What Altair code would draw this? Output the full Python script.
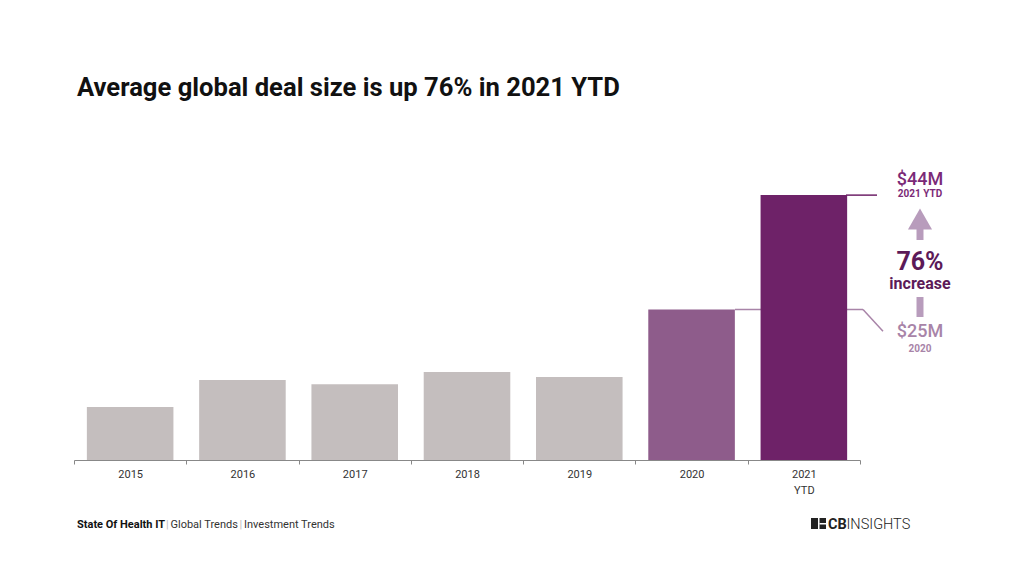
import altair as alt
import pandas as pd

# ---- data ----
years = ["2015", "2016", "2017", "2018", "2019", "2020", "2021 YTD"]
values = [8.8, 13.3, 12.6, 14.6, 13.8, 25, 44]
bar_colors = ["#c4bebe", "#c4bebe", "#c4bebe", "#c4bebe", "#c4bebe", "#8e5c8b", "#6e2268"]

title_text = "Average global deal size is up 76% in 2021 YTD"
footer_bold = "State Of Health IT"
footer_parts = ["Global Trends", "Investment Trends"]

df = pd.DataFrame({"year": years, "value": values})

W, H = 786, 301
FONT = "Roboto"
DARK = "#6e2268"
MID = "#7b2a77"
LIGHT = "#a884a8"
ARROW = "#b89cbc"

x_scale = alt.Scale(domain=years, paddingInner=0, paddingOuter=0)
y_scale = alt.Scale(domain=[0, 50])

bars = alt.Chart(df).mark_bar(width=alt.RelativeBandSize(0.771)).encode(
    x=alt.X("year:N", scale=x_scale, sort=years,
            axis=alt.Axis(title=None, labelAngle=0,
                          labelExpr="split(datum.label, ' ')",
                          tickBand="extent", tickSize=4, labelPadding=4,
                          labelFont=FONT, labelFontSize=11, labelColor="#333",
                          labelLineHeight=16, domainColor="#888",
                          tickColor="#888", domainWidth=1)),
    y=alt.Y("value:Q", scale=y_scale, axis=None),
    color=alt.Color("year:N", scale=alt.Scale(domain=years, range=bar_colors), legend=None),
)

v20 = alt.Chart(pd.DataFrame({"v": [values[5]], "v2": [21.4]}))
v21 = alt.Chart(pd.DataFrame({"v": [values[6]]}))

# connector lines
line20_h = v20.mark_rule(color=LIGHT, strokeWidth=1.5).encode(
    x=alt.value(661), x2=alt.value(789), y=alt.Y("v:Q", scale=y_scale, axis=None))
line20_d = v20.mark_rule(color=LIGHT, strokeWidth=1.5).encode(
    x=alt.value(789), x2=alt.value(809), y=alt.Y("v:Q", scale=y_scale, axis=None), y2="v2:Q")
line21 = v21.mark_rule(color=DARK, strokeWidth=1.5).encode(
    x=alt.value(772), x2=alt.value(803), y=alt.Y("v:Q", scale=y_scale, axis=None))

one = alt.Chart(pd.DataFrame({"k": [0]}))

def txt(text, x, y, size, color, weight="normal", align="left"):
    return one.mark_text(text=text, font=FONT, fontSize=size, color=color,
                         fontWeight=weight, align=align, baseline="alphabetic").encode(
        x=alt.value(x), y=alt.value(y))

ax = 846
ann = [
    txt("$44M", ax, 26, 18, MID, 500, "center"),
    txt("2021 YTD", ax, 38, 10, MID, "bold", "center"),
    txt("76%", ax, 111, 25, "#5c1a58", "bold", "center"),
    txt("increase", ax, 130, 16, "#5c1a58", "bold", "center"),
    txt("$25M", ax, 178, 18, LIGHT, 500, "center"),
    txt("2020", ax, 193, 10, LIGHT, "bold", "center"),
]

shaft_up = one.mark_rect(color=ARROW).encode(
    x=alt.value(ax - 3.5), x2=alt.value(ax + 3.5), y=alt.value(70), y2=alt.value(81))
head_up = one.mark_point(shape="triangle-up", filled=True, color=ARROW, opacity=1,
                         size=580).encode(x=alt.value(ax), y=alt.value(60))
shaft_dn = one.mark_rect(color=ARROW).encode(
    x=alt.value(ax - 3.5), x2=alt.value(ax + 3.5), y=alt.value(138), y2=alt.value(158))

title = txt(title_text, 3, -63, 25.6, "#111", "bold")

footer = [
    txt(footer_bold, 3, 369, 11, "#111", "bold"),
    txt("|", 92, 369, 11, "#bbb"),
    txt(footer_parts[0], 96.5, 369, 11, "#333"),
    txt("|", 165.5, 369, 11, "#bbb"),
    txt(footer_parts[1], 170, 369, 11, "#333"),
]

logo_box = one.mark_rect(color="#222").encode(
    x=alt.value(737), x2=alt.value(752), y=alt.value(359), y2=alt.value(370))
logo_v = one.mark_rect(color="white").encode(
    x=alt.value(744), x2=alt.value(745.5), y=alt.value(359), y2=alt.value(370))
logo_h = one.mark_rect(color="white").encode(
    x=alt.value(745.5), x2=alt.value(752), y=alt.value(364), y2=alt.value(365.5))
logo = [
    logo_box, logo_v, logo_h,
    txt("CB", 754, 370, 14.5, "#222", "bold"),
    txt("INSIGHTS", 772.5, 370, 14.5, "#222", 300),
]

chart = alt.layer(
    line20_h, line20_d, bars, line21, shaft_up, head_up, shaft_dn,
    *ann, title, *footer, *logo
).properties(
    width=W, height=H,
    autosize=alt.AutoSizeParams(type="none"),
    padding={"left": 66, "top": 151, "right": 156, "bottom": 108},
    background="white",
).configure_view(stroke=None)

chart.save("out.html", embed_options={"renderer": "svg", "actions": False})
